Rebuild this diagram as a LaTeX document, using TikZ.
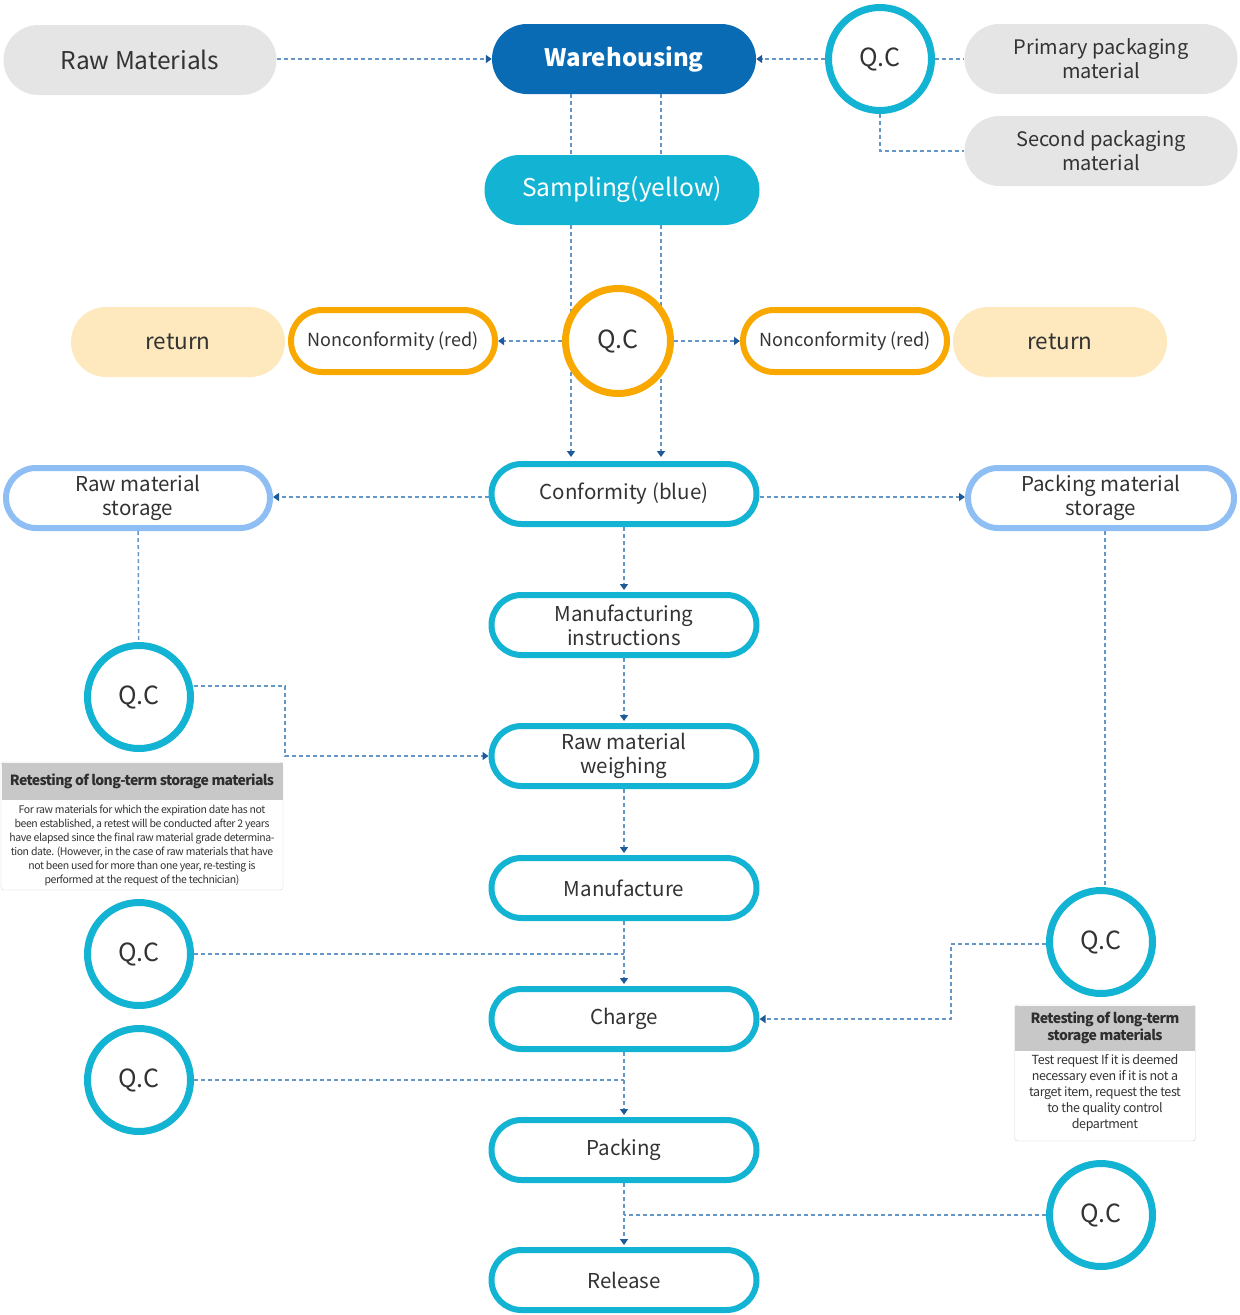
\documentclass[tikz,border=0pt]{standalone}
\usepackage{fontspec}
\setmainfont{Noto Sans CJK KR}
\usetikzlibrary{arrows.meta,backgrounds}
\definecolor{pillgray}{HTML}{E5E5E5}
\definecolor{whblue}{HTML}{0A6BB5}
\definecolor{qccyan}{HTML}{13B4D3}
\definecolor{qcorange}{HTML}{F9A800}
\definecolor{retyellow}{HTML}{FDE9BD}
\definecolor{storeblue}{HTML}{8EBEF3}
\definecolor{lineblue}{HTML}{6496C8}
\definecolor{tipblue}{HTML}{1D5A97}
\definecolor{txt}{HTML}{333333}
\definecolor{headgray}{HTML}{C8C8C8}
\newcommand{\fs}[1]{\fontsize{#1}{#1}\selectfont}
\newcommand{\tight}[1]{\addfontfeature{LetterSpace=#1}}
\tikzset{
  graypill/.style={fill=pillgray, rounded corners=35, minimum width=273, minimum height=70, inner sep=0, text=txt, align=center},
  stepbox/.style={draw=qccyan, line width=6, fill=white, rounded corners=30, minimum width=265, minimum height=60, inner sep=0, text=txt, align=center, font=\fontsize{20.5}{24}\selectfont},
  storebox/.style={stepbox, draw=storeblue},
  ncbox/.style={stepbox, draw=qcorange, minimum width=204, minimum height=62, rounded corners=31, font=\fs{18}},
  retpill/.style={fill=retyellow, rounded corners=35, minimum width=214, minimum height=70, inner sep=0, text=txt, font=\fs{22.5}},
  qc/.style={circle, draw=qccyan, line width=7, fill=white, minimum size=103, inner sep=0, text=txt, font=\fs{25}},
  qco/.style={qc, draw=qcorange, minimum size=105},
  flow/.style={draw=lineblue, line width=1.5, dash pattern=on 4pt off 3pt},
  tip/.style={-{Triangle[length=6,width=8,color=tipblue]}},
  headbox/.style={fill=headgray, inner sep=0, text=txt!90!black, align=center},
  notebox/.style={draw=black!18, fill=white, rounded corners=3, inner sep=0, text=txt, align=center}
}
\begin{document}
\begin{tikzpicture}[x=1pt,y=-1pt]
\useasboundingbox (0,0) rectangle (1240,1315);
% top row
\node [graypill, font=\fs{24.5}] (rawm) at (140,60) {Raw Materials};
\node [graypill, fill=whblue, minimum width=264, text=white, font=\fs{24}\bfseries] (wh) at (624,59) {Warehousing};
\node [qc] (qcTop) at (880,59) {Q.C};
\node [graypill, font=\fontsize{20}{24}\selectfont] (prim) at (1101,59) {Primary packaging\\material};
\node [graypill, font=\fontsize{20}{24}\selectfont] (sec) at (1101,151) {Second packaging\\material};
\node [graypill, fill=qccyan, minimum width=275, text=white, font=\fs{24.5}] (samp) at (622,190) {Sampling(yellow)};
% inspection
\node [qco] (qcMid) at (618,341) {Q.C};
\node [retpill] (retL) at (178,342) {return};
\node [ncbox] (ncL) at (393,341) {Nonconformity (red)};
\node [ncbox] (ncR) at (845,341) {Nonconformity (red)};
\node [retpill] (retR) at (1060,342) {return};
% process
\node [stepbox] (conf) at (624,494) {Conformity (blue)};
\node [storebox, minimum width=264] (rms) at (138,498) {Raw material\\storage};
\node [storebox, minimum width=266] (pms) at (1101,498) {Packing material\\storage};
\node [stepbox] (mi) at (624,625) {Manufacturing\\instructions};
\node [stepbox] (rmw) at (624,756) {Raw material\\weighing};
\node [stepbox] (manu) at (624,888) {Manufacture};
\node [stepbox] (chg) at (624,1019) {Charge};
\node [stepbox] (pack) at (624,1150) {Packing};
\node [stepbox] (rel) at (624,1280) {Release};
\node [qc] (qcL1) at (139,697) {Q.C};
\node [qc] (qcL2) at (139,954) {Q.C};
\node [qc] (qcL3) at (139,1080) {Q.C};
\node [qc] (qcR1) at (1101,942) {Q.C};
\node [qc] (qcR2) at (1101,1215) {Q.C};
% notes
\node [notebox, minimum width=282, minimum height=128] (noteL) at (142,826) {};
\node [headbox, minimum width=281, minimum height=37, font=\fs{14}\bfseries\tight{-4.5}] (headL) at (142,781) {Retesting of long-term storage materials};
\node [text=txt, align=center, font=\fontsize{10.5}{14}\selectfont\tight{-4}, inner sep=0] (bodyL) at (142,845) {For raw materials for which the expiration date has not\\been established, a retest will be conducted after 2 years\\have elapsed since the final raw material grade determina-\\tion date. (However, in the case of raw materials that have\\not been used for more than one year, re-testing is\\performed at the request of the technician)};
\node [notebox, minimum width=181, minimum height=136] (noteR) at (1105,1073) {};
\node [headbox, minimum width=180, minimum height=45, font=\fontsize{14}{17}\selectfont\bfseries\tight{-4}] (headR) at (1105,1028) {Retesting of long-term\\storage materials};
\node [text=txt, align=center, font=\fontsize{12.5}{16}\selectfont\tight{-3}, inner sep=0] (bodyR) at (1105,1093) {Test request If it is deemed\\necessary even if it is not a\\target item, request the test\\to the quality control\\department};
% connectors
\coordinate (la) at (571,0);
\coordinate (lb) at (661,0);
\begin{pgfonlayer}{background}
\draw [flow, tip] (rawm.east |- wh) -- (wh);
\draw [flow, tip] (qcTop) -- (wh);
\draw [flow] (qcTop) -- (prim);
\draw [flow] (qcTop) |- (sec);
\draw [flow] (wh.south -| la) -- (samp.north -| la);
\draw [flow] (wh.south -| lb) -- (samp.north -| lb);
\draw [flow, tip, shorten >=4] (samp.south -| la) -- (conf.north -| la);
\draw [flow, tip, shorten >=4] (samp.south -| lb) -- (conf.north -| lb);
\draw [flow, tip] (qcMid) -- (ncL);
\draw [flow, tip] (qcMid) -- (ncR);
\draw [flow, tip] ([yshift=-3pt]conf.west) -- (rms.east |- 0,497);
\draw [flow, tip] ([yshift=-3pt]conf.east) -- (pms.west |- 0,497);
\draw [flow, tip, shorten >=2] (conf) -- (mi);
\draw [flow, tip, shorten >=2] (mi) -- (rmw);
\draw [flow, tip, shorten >=2] (rmw) -- (manu);
\draw [flow, tip, shorten >=2] (manu) -- (chg);
\draw [flow, tip, shorten >=2] (chg) -- (pack);
\draw [flow, tip, shorten >=2] (pack) -- (rel);
\draw [flow] (rms) -- (qcL1);
\draw [flow, tip] ([yshift=11pt]qcL1.east) -- ++(91,0) |- (rmw.west);
\draw [flow] (qcL2.east) -- (qcL2.east -| manu.south);
\draw [flow] (qcL3.east) -- (qcL3.east -| chg.south);
\draw [flow] (qcR2.west) -- (qcR2.west -| pack.south);
\draw [flow] (pms.south -| 1105,0) -- (qcR1.north -| 1105,0);
\draw [flow, tip] ([yshift=-2pt]qcR1.west) -- ++(-95,0) |- (chg.east);
\end{pgfonlayer}
\end{tikzpicture}
\end{document}
